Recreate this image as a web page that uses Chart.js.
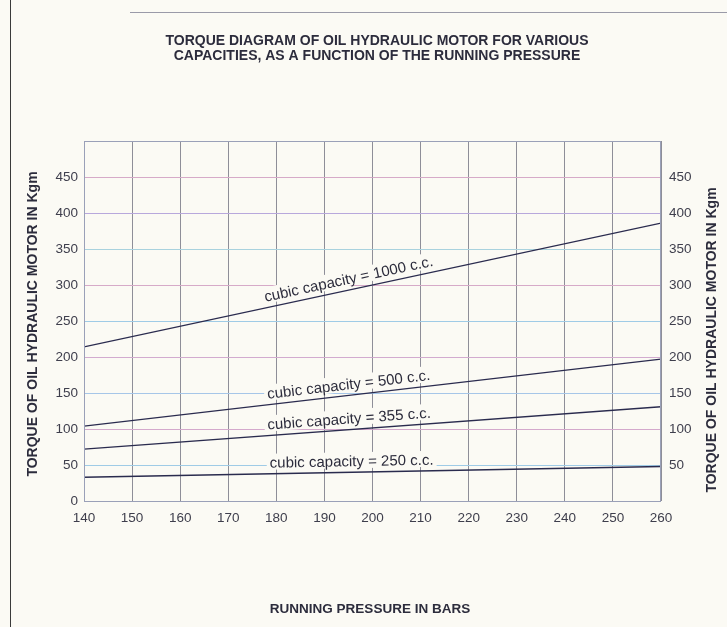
<!DOCTYPE html>
<html>
<head>
<meta charset="utf-8">
<script src="https://cdn.jsdelivr.net/npm/chart.js@4.4.1/dist/chart.umd.min.js"></script>
<style>
  html, body { margin: 0; padding: 0; background: #fbfaf4; }
  #wrap { position: relative; width: 727px; height: 627px; }
  #edgeL { position: absolute; left: 10px; top: 0; width: 1px; height: 627px; background: #3a3a3a; }
  #edgeT { position: absolute; left: 130px; top: 12px; width: 597px; height: 1px; background: #9a9aa8; }
  canvas { position: absolute; left: 0; top: 0; }
</style>
</head>
<body>
<div id="wrap">
  <canvas id="torqueChart" width="727" height="627"></canvas>
  <div id="edgeL"></div>
  <div id="edgeT"></div>
</div>
<script>
// running pressure (bars) at both ends of each line
const pressures = [140, 260];

// torque in Kgm
const torque1000 = [214, 386];
const torque500 = [104, 197];
const torque355 = [72, 131];
const torque250 = [33, 48];

const capacityLabels = [
  "cubic capacity = 1000 c.c.",
  "cubic capacity = 500 c.c.",
  "cubic capacity = 355 c.c.",
  "cubic capacity = 250 c.c.",
];
// pressure at which each in-line label is centred
const labelAt = [195.5, 195.3, 195.3, 195.7];

const xTicks = [140, 150, 160, 170, 180, 190, 200, 210, 220, 230, 240, 250, 260];
const yTicks = [0, 50, 100, 150, 200, 250, 300, 350, 400, 450];

const titleLines = [
  "TORQUE DIAGRAM OF OIL HYDRAULIC MOTOR FOR VARIOUS",
  "CAPACITIES, AS A FUNCTION OF THE RUNNING PRESSURE",
];
const xTitle = "RUNNING PRESSURE IN BARS";
const yTitle = "TORQUE OF OIL HYDRAULIC MOTOR IN Kgm";

const BG = "#fbfaf4";
const INK = "#2c2c3c";
const LINE = "#2a2b4e";
const FONT = "'Liberation Sans', Arial, sans-serif";

const toPoints = (vals) => pressures.map((p, i) => ({ x: p, y: vals[i] }));

const hGridColors = ["#b9b0dc", "#9fcbe6", "#d4a9cc", "#a6c6e8", "#d2abcf", "#9fcbe6", "#d6aac8", "#a9d2de", "#b8a8dc", "#d6aac8", "#b9b0dc"];

const overlay = {
  id: "overlay",
  beforeDraw(chart) {
    const { ctx } = chart;
    ctx.save();
    ctx.fillStyle = BG;
    ctx.fillRect(0, 0, chart.width, chart.height);
    ctx.restore();
  },
  afterDatasetsDraw(chart) {
    const { ctx, chartArea: a, scales } = chart;
    ctx.save();
    // frame
    ctx.strokeStyle = "#9aa0b8";
    ctx.lineWidth = 1;
    ctx.strokeRect(a.left + 0.5, a.top + 0.5, a.right - a.left - 1, a.bottom - a.top);

    // labels along each line
    ctx.font = "15px " + FONT;
    ctx.textAlign = "center";
    ctx.textBaseline = "alphabetic";
    chart.data.datasets.forEach((ds, i) => {
      const pts = chart.getDatasetMeta(i).data;
      const p0 = pts[0], p1 = pts[pts.length - 1];
      const ang = Math.atan2(p1.y - p0.y, p1.x - p0.x);
      const px = scales.x.getPixelForValue(labelAt[i]);
      const t = (px - p0.x) / (p1.x - p0.x);
      const py = p0.y + t * (p1.y - p0.y);
      const txt = capacityLabels[i];
      const w = ctx.measureText(txt).width;
      ctx.save();
      ctx.translate(px, py);
      ctx.rotate(ang);
      ctx.fillStyle = BG;
      ctx.fillRect(-w / 2 - 3, -20, w + 6, 16);
      ctx.fillStyle = INK;
      ctx.fillText(txt, 0, -6);
      ctx.restore();
    });

    // titles
    ctx.fillStyle = INK;
    ctx.font = "bold 14px " + FONT;
    ctx.textBaseline = "middle";
    ctx.fillText(titleLines[0], 377, 41);
    ctx.fillText(titleLines[1], 377, 56);
    ctx.font = "bold 13.5px " + FONT;
    ctx.fillText(xTitle, 370, 609);

    ctx.font = "bold 14px " + FONT;
    ctx.save();
    ctx.translate(33, 324);
    ctx.rotate(-Math.PI / 2);
    ctx.fillText(yTitle, 0, 0);
    ctx.restore();

    ctx.save();
    ctx.translate(712, 340);
    ctx.rotate(-Math.PI / 2);
    ctx.fillText(yTitle, 0, 0);
    ctx.restore();
    ctx.restore();
  },
};

const tickFont = { family: FONT, size: 13.5 };
const yTickCb = (v) => (yTicks.includes(v) ? String(v) : null);

new Chart(document.getElementById("torqueChart"), {
  type: "line",
  data: {
    datasets: [torque1000, torque500, torque355, torque250].map((vals, i) => ({
      label: capacityLabels[i],
      data: toPoints(vals),
      borderColor: LINE,
      borderWidth: 1.4,
      pointRadius: 0,
      fill: false,
      tension: 0,
    })),
  },
  options: {
    responsive: false,
    animation: false,
    layout: { padding: { top: 141, left: 0, right: 0, bottom: 0 } },
    plugins: { legend: { display: false }, tooltip: { enabled: false }, title: { display: false } },
    scales: {
      x: {
        type: "linear",
        min: 140,
        max: 260,
        afterBuildTicks: (s) => { s.ticks = xTicks.map((v) => ({ value: v })); },
        afterFit: (s) => { s.height = 126; },
        ticks: { color: "#3e3e4c", font: tickFont, padding: 9, maxRotation: 0 },
        grid: { color: "#8e8e98", lineWidth: 1, drawTicks: false },
        border: { display: false },
      },
      y: {
        position: "left",
        min: 0,
        max: 500,
        afterFit: (s) => { s.width = 84; },
        ticks: { stepSize: 50, color: "#3e3e4c", font: tickFont, padding: 6, callback: yTickCb },
        grid: { color: (c) => hGridColors[c.index % hGridColors.length], lineWidth: 1, drawTicks: false },
        border: { display: false },
      },
      y2: {
        position: "right",
        min: 0,
        max: 500,
        afterFit: (s) => { s.width = 66; },
        ticks: { stepSize: 50, color: "#3e3e4c", font: tickFont, padding: 8, callback: (v) => (v === 0 ? null : yTickCb(v)) },
        grid: { display: false, drawTicks: false },
        border: { display: false },
      },
    },
  },
  plugins: [overlay],
});
</script>
</body>
</html>
